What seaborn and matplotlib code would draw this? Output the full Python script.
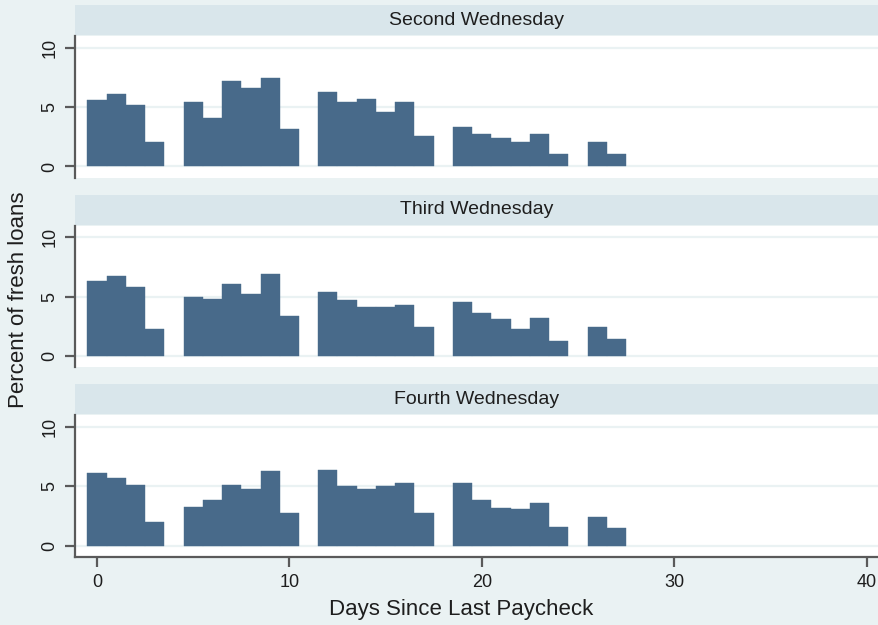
import numpy as np
import pandas as pd
import matplotlib
matplotlib.use("Agg")
import matplotlib.pyplot as plt
import seaborn as sns
from matplotlib.patches import Rectangle

# ---- data ----
weeks = ["Second Wednesday", "Third Wednesday", "Fourth Wednesday"]
days = [0, 1, 2, 3, 5, 6, 7, 8, 9, 10, 12, 13, 14, 15, 16, 17,
        19, 20, 21, 22, 23, 24, 26, 27]
pct_second = [5.6, 6.1, 5.15, 2.07, 5.43, 4.09, 7.17, 6.64, 7.42, 3.14,
              6.25, 5.41, 5.69, 4.62, 5.41, 2.6,
              3.28, 2.75, 2.38, 2.07, 2.75, 1.01, 2.07, 1.01]
pct_third = [6.33, 6.73, 5.8, 2.27, 4.97, 4.83, 6.05, 5.26, 6.88, 3.35,
             5.4, 4.72, 4.15, 4.15, 4.29, 2.41,
             4.57, 3.64, 3.1, 2.3, 3.21, 1.31, 2.41, 1.45]
pct_fourth = [6.1, 5.71, 5.15, 1.96, 3.3, 3.84, 5.15, 4.76, 6.25, 2.77,
              6.39, 5.04, 4.79, 5.04, 5.32, 2.77,
              5.32, 3.84, 3.17, 3.05, 3.56, 1.57, 2.38, 1.46]
x_ticks = [0, 10, 20, 30, 40]
y_ticks = [0, 5, 10]

df = pd.concat([
    pd.DataFrame({"week": w, "day": days, "pct": p})
    for w, p in zip(weeks, [pct_second, pct_third, pct_fourth])
], ignore_index=True)

# ---- style ----
BG = "#EAF2F3"
STRIP = "#D9E6EB"
BAR = "#486A8A"
AXC = "#5A5A5A"
TXT = "#1E1E1E"

sns.set_theme(style="white")
plt.rcParams["font.family"] = ["Liberation Sans", "DejaVu Sans"]

g = sns.FacetGrid(df, row="week", row_order=weeks, sharex=True, sharey=True,
                  height=2, aspect=4, despine=False)
g.map_dataframe(sns.histplot, x="day", weights="pct", discrete=True,
                stat="count", color=BAR, alpha=1, edgecolor=BAR,
                linewidth=0.3)

fig = g.figure
fig.set_size_inches(8.79, 6.25)
fig.set_dpi(100)
fig.patch.set_facecolor(BG)
fig.subplots_adjust(left=75/879, right=1.0, top=1 - 36/625,
                    bottom=1 - 557/625, hspace=48/142)

axes = g.axes.flatten()
for i, (ax, w) in enumerate(zip(axes, weeks)):
    # hide empty (zero-height) bins so no line shows at the gaps
    for p in ax.patches:
        if p.get_height() == 0:
            p.set_visible(False)
    ax.set_facecolor("white")
    ax.set_xlim(-1.14, 40.64)
    ax.set_ylim(-0.95, 10.98)
    ax.set_yticks(y_ticks)
    ax.set_xticks(x_ticks)
    ax.grid(axis="y", color=BG, linewidth=1.6)
    ax.grid(axis="x", visible=False)
    ax.set_axisbelow(True)
    ax.set_title("")
    ax.set_xlabel("")
    ax.set_ylabel("")
    for s in ["top", "right"]:
        ax.spines[s].set_visible(False)
    ax.spines["left"].set_color(AXC)
    ax.spines["left"].set_linewidth(1.6)
    ax.tick_params(axis="y", direction="out", length=7, width=1.6,
                   color=AXC, labelcolor=TXT, labelsize=13, pad=5, left=True)
    for lab in ax.get_yticklabels():
        lab.set_rotation(90)
        lab.set_va("center")
    if i < 2:
        ax.spines["bottom"].set_visible(False)
        ax.tick_params(axis="x", bottom=False, labelbottom=False)
    else:
        ax.spines["bottom"].set_color(AXC)
        ax.spines["bottom"].set_linewidth(1.6)
        ax.tick_params(axis="x", direction="out", length=7, width=1.6,
                       color=AXC, labelcolor=TXT, labelsize=13, pad=5,
                       bottom=True, labelbottom=True)
    # strip header
    h = 142.0
    ax.add_patch(Rectangle((0, 1 + 1/h), 1, 30/h, transform=ax.transAxes,
                           facecolor=STRIP, edgecolor="none", clip_on=False))
    ax.text(0.5, 1 + 16/h, w, transform=ax.transAxes, ha="center",
            va="center", fontsize=14, color=TXT)

fig.text(19/879, 1 - 300/625, "Percent of fresh loans", rotation=90,
         ha="center", va="center", fontsize=16, color=TXT)
fig.text(461/879, 1 - 610/625, "Days Since Last Paycheck", ha="center",
         va="center", fontsize=16, color=TXT)

fig.savefig("out.png", dpi=100, facecolor=BG)
